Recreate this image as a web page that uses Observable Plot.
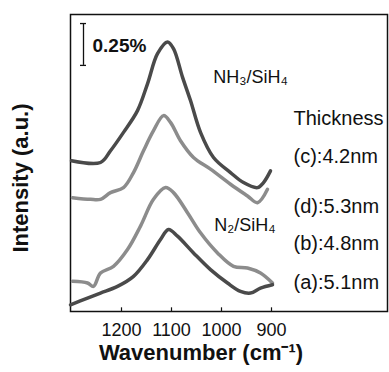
<!DOCTYPE html>
<html><head><meta charset="utf-8">
<script src="https://cdn.jsdelivr.net/npm/d3@7"></script>
<script src="https://cdn.jsdelivr.net/npm/@observablehq/plot@0.6"></script>
<style>
body{margin:0;background:#fff;}
#chart svg{font-family:"Liberation Sans",Arial,sans-serif;}
</style>
</head><body><div id="chart"></div>
<script>
// Data (wavenumber cm-1, intensity a.u. with offsets)
const cWave = [1300,1242,1222,1196,1168,1148,1128,1108,1096,1078,1062,1042,1016,982,956,928,916,902];
const cInt  = [0.90,0.89,0.96,1.07,1.20,1.36,1.54,1.61,1.57,1.40,1.26,1.07,0.92,0.83,0.77,0.74,0.77,0.84];
const dWave = [1298,1262,1242,1222,1196,1176,1156,1136,1116,1102,1082,1056,1022,982,948,928,908];
const dInt  = [0.68,0.67,0.67,0.71,0.74,0.83,0.96,1.08,1.17,1.13,1.02,0.92,0.85,0.76,0.69,0.65,0.73];
const bWave = [1298,1268,1256,1242,1216,1188,1162,1136,1112,1096,1068,1042,1008,976,948,922,898];
const bInt  = [0.18,0.17,0.15,0.23,0.27,0.37,0.51,0.67,0.74,0.71,0.59,0.47,0.35,0.27,0.26,0.23,0.17];
const aWave = [1302,1268,1242,1208,1176,1148,1122,1106,1088,1056,1022,988,962,942,922,898];
const aInt  = [0.04,0.08,0.11,0.15,0.21,0.31,0.43,0.49,0.45,0.35,0.25,0.17,0.12,0.11,0.14,0.16];
const seriesNames = ["(c)", "(d)", "(b)", "(a)"];
const xTicks = [1200, 1100, 1000, 900];
const thicknessLabels = ["Thickness", "(c):4.2nm", "(d):5.3nm", "(b):4.8nm", "(a):5.1nm"];
const thicknessLevels = [1.155, 0.923, 0.625, 0.405, 0.173];
const scaleBar = 0.25;

const rows = [];
[[cWave,cInt,"(c)"],[dWave,dInt,"(d)"],[bWave,bInt,"(b)"],[aWave,aInt,"(a)"]].forEach(([w,v,s]) => {
  w.forEach((x,i) => rows.push({wave:x, int:v[i], s}));
});
const dark = "#4a4a4a", light = "#8c8c8c";
const barTop = 1.72, barX = 1276;

const plot = Plot.plot({
  width: 389, height: 372,
  marginLeft: 70, marginRight: 2, marginTop: 14, marginBottom: 61,
  style: {fontFamily: "Liberation Sans, Arial, sans-serif", background: "#fff"},
  x: {type: "linear", domain: [1302, 668], ticks: xTicks, label: null},
  y: {type: "linear", domain: [0, 1.774], axis: null},
  color: {domain: seriesNames, range: [dark, light, light, dark]},
  marks: [
    Plot.frame({stroke: "#111", strokeWidth: 1.5}),
    Plot.axisX(xTicks, {tickSize: 0, tickPadding: 12, fontSize: 18, fill: "#111", label: null, tickFormat: d => String(d)}),
    Plot.ruleX(xTicks, {x: d => d, y1: 0, y2: 0.022, stroke: "#111", strokeWidth: 1.2}),
    Plot.line(rows, {x: "wave", y: "int", z: "s", stroke: "s", strokeWidth: 3.5, curve: "catmull-rom", strokeLinejoin: "round", strokeLinecap: "round"}),
    // scale bar
    Plot.ruleX([barX], {x: d => d, y1: barTop - scaleBar, y2: barTop, stroke: "#111", strokeWidth: 1.3}),
    Plot.ruleY([barTop - scaleBar, barTop], {y: d => d, x1: barX + 6, x2: barX - 6, stroke: "#111", strokeWidth: 1.3}),
    Plot.text(["0.25%"], {x: 1258, y: 1.589, textAnchor: "start", fontSize: 19, fontWeight: "bold", fill: "#111"}),
    Plot.text(["NH\u2083/SiH\u2084"], {x: 942, y: 1.40, fontSize: 18, fill: "#111"}),
    Plot.text(["N\u2082/SiH\u2084"], {x: 953, y: 0.518, fontSize: 18, fill: "#111"}),
    Plot.text(thicknessLabels, {x: 856, y: (d, i) => thicknessLevels[i], textAnchor: "start", fontSize: 20, fill: "#111"}),
    Plot.text(["Wavenumber (cm\u207B\u00B9)"], {frameAnchor: "bottom", dy: 48, dx: -28, fontSize: 22, fontWeight: "bold", fill: "#111"}),
    Plot.text(["Intensity (a.u.)"], {frameAnchor: "left", textAnchor: "middle", rotate: -90, dx: -50, dy: 15, fontSize: 22, fontWeight: "bold", fill: "#111"})
  ]
});
document.getElementById("chart").appendChild(plot);
</script>
</body></html>
